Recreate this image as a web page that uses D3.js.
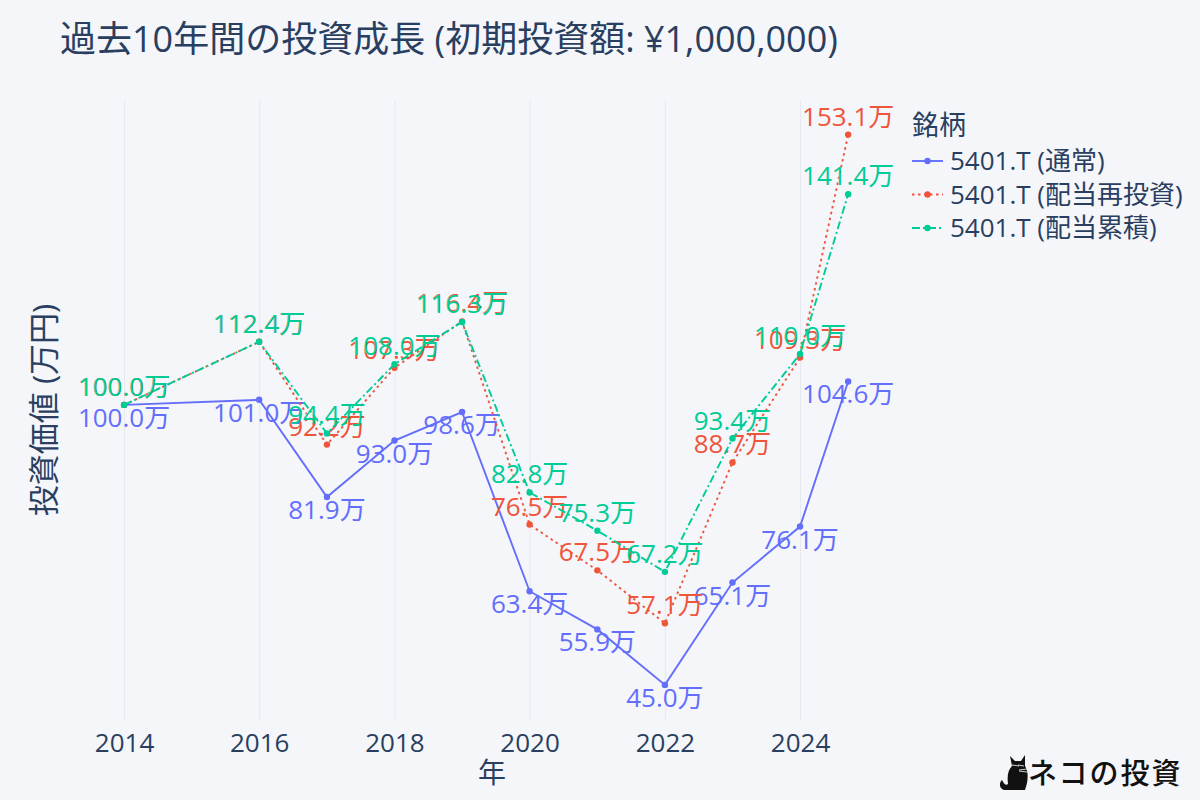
<!DOCTYPE html>
<html><head><meta charset="utf-8">
<script src="https://cdn.jsdelivr.net/npm/d3@7"></script>
<style>
html,body{margin:0;padding:0;background:#f4f6fa;}
svg{display:block;}
text{font-family:"Open Sans","Noto Sans CJK JP",sans-serif;}
</style></head>
<body><svg id="chart" width="1200" height="800"></svg>
<script>
const dates = ["2014-01-01","2016-01-01","2017-01-01","2018-01-01","2019-01-01","2020-01-01","2021-01-01","2022-01-01","2023-01-01","2024-01-01","2024-09-17"];
const normal = [100.0,101.0,81.9,93.0,98.6,63.4,55.9,45.0,65.1,76.1,104.6];
const reinvest = [100.0,112.4,92.2,107.3,116.4,76.5,67.5,57.1,88.7,109.3,153.1];
const accumulate = [100.0,112.4,94.4,108.0,116.3,82.8,75.3,67.2,93.4,110.0,141.4];
const seriesNames = ["5401.T (通常)","5401.T (配当再投資)","5401.T (配当累積)"];
const seriesColors = ["#636efa","#ef553b","#00cc96"];
const seriesDash = [null,"2.5,3.5","8,3,2,3"];
const seriesTextPos = ["bottom","top","top"];
const titleText = "過去10年間の投資成長 (初期投資額: ¥1,000,000)";
const xTitle = "年";
const yTitle = "投資価値 (万円)";
const legendTitle = "銘柄";
const xDomain = ["2013-05-08","2025-05-01"];
const yDomain = [38.1,159.9];

const svg = d3.select("#chart");
const W=1200,H=800;
const M={l:80,r:310,t:100,b:80};
const parse = d3.timeParse("%Y-%m-%d");
const x = d3.scaleTime().domain(xDomain.map(parse)).range([M.l, W-M.r]);
const y = d3.scaleLinear().domain(yDomain).range([H-M.b, M.t]);
const textColor="#2a3f5f";

svg.append("rect").attr("width",W).attr("height",H).attr("fill","#f4f6fa");

// grid + axis
const xAxis = d3.axisBottom(x).ticks(d3.timeYear.every(2)).tickFormat(d3.timeFormat("%Y")).tickSize(-(H-M.b-M.t)).tickPadding(9);
const gx = svg.append("g").attr("transform",`translate(0,${H-M.b})`).call(xAxis);
gx.select(".domain").remove();
gx.selectAll(".tick line").attr("stroke","#e6e9f0").attr("stroke-width",1);
gx.selectAll(".tick text").attr("fill",textColor).style("font-size","26px").attr("dy","0.9em");

svg.append("text").attr("x",W/2-108).attr("y",783).attr("text-anchor","middle").attr("fill",textColor).style("font-size","28px").text(xTitle);
svg.append("text").attr("transform",`translate(55,${(M.t+H-M.b)/2}) rotate(-90)`).attr("text-anchor","middle").attr("fill",textColor).style("font-size","31px").text(yTitle);

svg.append("text").attr("x",60).attr("y",52).attr("fill",textColor).style("font-size","36px").text(titleText);

const allSeries=[normal,reinvest,accumulate];
allSeries.forEach((vals,i)=>{
  const data = dates.map((d,j)=>({d:parse(d),v:vals[j]}));
  const line = d3.line().x(p=>x(p.d)).y(p=>y(p.v));
  const g = svg.append("g");
  g.append("path").datum(data).attr("d",line).attr("fill","none").attr("stroke",seriesColors[i]).attr("stroke-width",1.9)
    .attr("stroke-dasharray",seriesDash[i]);
  g.selectAll("circle").data(data).join("circle").attr("cx",p=>x(p.d)).attr("cy",p=>y(p.v)).attr("r",3.2).attr("fill",seriesColors[i]);
  g.selectAll("text").data(data).join("text")
    .attr("x",p=>x(p.d))
    .attr("y",p=>seriesTextPos[i]==="top"? y(p.v)-9 : y(p.v)+22)
    .attr("text-anchor","middle").attr("fill",seriesColors[i]).style("font-size","26px")
    .text(p=>d3.format(".1f")(p.v)+"万");
});

// legend
const lg = svg.append("g").attr("transform","translate(912,0)");
lg.append("text").attr("x",0).attr("y",135).attr("fill",textColor).style("font-size","27px").text(legendTitle);
seriesNames.forEach((n,i)=>{
  const cy=161+i*33.5;
  lg.append("line").attr("x1",0).attr("x2",31).attr("y1",cy).attr("y2",cy).attr("stroke",seriesColors[i]).attr("stroke-width",1.9).attr("stroke-dasharray",seriesDash[i]);
  lg.append("circle").attr("cx",15.5).attr("cy",cy).attr("r",3.2).attr("fill",seriesColors[i]);
  lg.append("text").attr("x",38).attr("y",cy+9).attr("fill",textColor).style("font-size","26px").text(n);
});

// watermark
const wm = svg.append("g").attr("transform","translate(998,750)");
wm.append("path").attr("d","M8,40 C2,40 0,34 4,30 C6,34 8,36 10,34 C9,26 10,20 14,16 L12,6 L17,11 L23,11 L27,5 L27,16 C31,22 30,32 27,40 Z").attr("fill","#111");
wm.append("g").attr("stroke","#fff").attr("stroke-width",0.8)
  .selectAll("line").data([[14,15,21,16],[20,15,26,16],[21,20,29,19],[21,21,29,22]]).join("line")
  .attr("x1",d=>d[0]).attr("y1",d=>d[1]).attr("x2",d=>d[2]).attr("y2",d=>d[3]);
wm.append("text").attr("x",30).attr("y",34).attr("fill","#111").style("font-size","29px").style("font-weight","500").style("font-family","'Noto Sans CJK JP'").attr("letter-spacing","2").text("ネコの投資");
</script></body></html>
